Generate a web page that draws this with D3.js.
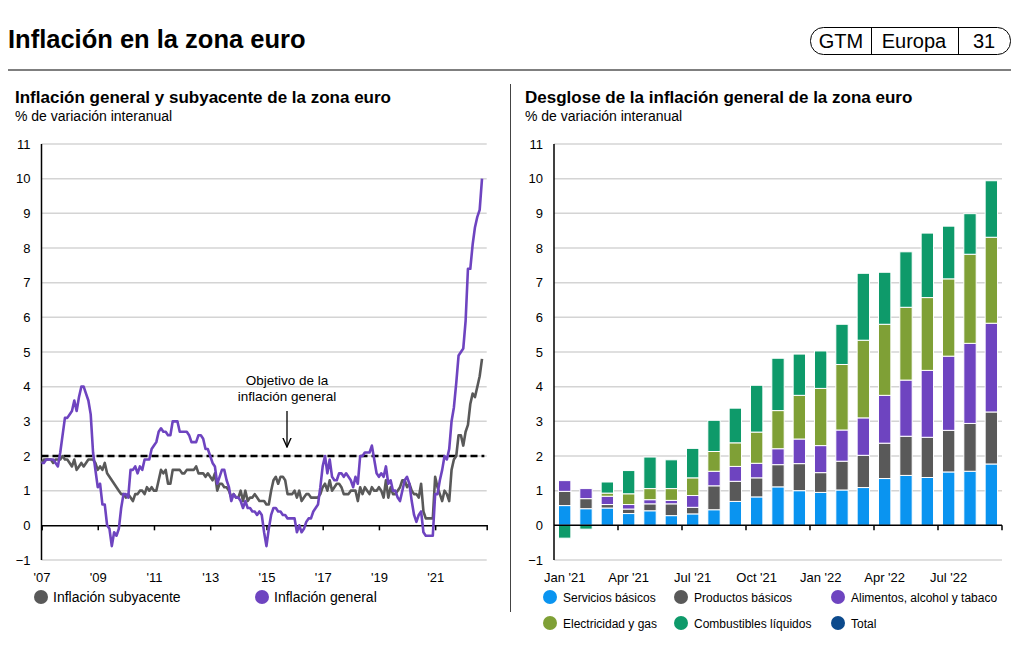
<!DOCTYPE html>
<html><head><meta charset="utf-8">
<script src="https://cdn.jsdelivr.net/npm/d3@7"></script>
<style>
body{margin:0;background:#fff}
svg text{font-family:"Liberation Sans",Arial,Helvetica,sans-serif;fill:#000}
</style>
</head><body>
<svg id="c" width="1025" height="652"></svg>
<script>
// ---------- DATA ----------
// Left chart: monthly, Jan 2007 .. Sep 2022
const headline = [
 1.8,1.8,1.9,1.9,1.9,1.9,1.8,1.7,2.1,2.6,3.1,3.1,
 3.2,3.3,3.6,3.3,3.7,4.0,4.0,3.8,3.6,3.2,2.1,1.6,
 1.1,1.2,0.6,0.6,0.0,-0.1,-0.6,-0.2,-0.3,-0.1,0.5,0.9,
 0.9,0.8,1.6,1.6,1.7,1.5,1.7,1.6,1.9,1.9,1.9,2.2,
 2.3,2.4,2.7,2.8,2.7,2.7,2.6,2.6,3.0,3.0,3.0,2.7,
 2.7,2.7,2.7,2.6,2.4,2.4,2.4,2.6,2.6,2.5,2.2,2.2,
 2.0,1.8,1.7,1.2,1.4,1.6,1.6,1.3,1.1,0.7,0.9,0.8,
 0.8,0.7,0.5,0.7,0.5,0.5,0.4,0.4,0.3,0.4,0.3,-0.2,
 -0.6,-0.1,0.3,0.5,0.5,0.4,0.4,0.3,0.3,0.2,0.2,0.2,
 0.2,-0.2,0.0,-0.2,-0.1,0.1,0.2,0.2,0.4,0.5,0.6,1.1,
 1.7,2.0,1.5,1.9,1.4,1.3,1.3,1.5,1.5,1.4,1.5,1.4,
 1.3,1.1,1.4,1.2,2.0,2.0,2.1,2.1,2.1,2.3,1.9,1.5,
 1.4,1.5,1.4,1.7,1.2,1.3,1.0,1.0,0.8,0.7,1.0,1.3,
 1.4,1.2,0.7,0.3,0.1,0.3,0.4,-0.2,-0.3,-0.3,-0.3,-0.3,
 0.9,0.9,1.3,1.6,2.0,1.9,2.2,3.0,3.4,4.1,4.9,5.0,
 5.1,5.9,7.4,7.4,8.1,8.6,8.9,9.1,10.0
];
const core = [
 1.8,1.9,1.9,1.9,1.9,1.8,1.9,1.9,1.9,2.0,1.9,1.9,
 1.8,1.7,1.9,1.6,1.7,1.8,1.7,1.8,1.9,1.9,1.9,1.8,
 1.6,1.7,1.6,1.8,1.5,1.4,1.3,1.2,1.1,1.0,0.9,0.9,
 0.8,0.9,0.8,0.7,0.9,0.9,1.0,1.0,0.9,1.1,1.0,1.1,
 1.0,1.0,1.3,1.6,1.5,1.6,1.2,1.2,1.6,1.6,1.6,1.6,
 1.5,1.5,1.6,1.6,1.6,1.6,1.7,1.5,1.5,1.5,1.4,1.5,
 1.4,1.3,1.5,1.0,1.2,1.2,1.1,1.1,1.0,0.8,0.9,0.8,
 0.8,1.0,0.7,1.0,0.7,0.8,0.8,0.9,0.8,0.7,0.7,0.7,
 0.6,0.6,1.0,1.3,1.4,1.2,1.4,1.4,1.3,0.9,0.9,0.9,
 1.0,0.8,1.0,0.7,0.8,0.9,0.9,0.8,0.8,0.8,0.8,0.9,
 1.1,1.2,1.0,1.3,1.0,1.1,1.2,1.2,1.1,0.9,0.9,0.9,
 1.0,1.0,1.0,0.7,1.1,0.9,1.1,1.0,0.9,1.1,1.0,1.0,
 1.1,1.0,0.8,1.3,0.8,1.1,0.9,0.9,1.0,1.1,1.3,1.3,
 1.1,1.2,1.0,0.9,0.9,0.8,1.2,0.4,0.2,0.2,0.2,0.2,
 1.4,1.1,0.9,0.7,1.0,0.9,0.7,1.6,1.9,2.0,2.6,2.6,
 2.3,2.7,2.9,3.5,3.8,3.7,4.0,4.3,4.8
];
const target = 2;
const lineTickLabels = ["'07","'09","'11","'13","'15","'17","'19","'21"];
const yTicks = [-1,0,1,2,3,4,5,6,7,8,9,10,11];

// Right chart: Jan 2021 .. Sep 2022
const months = ["Jan '21","Feb '21","Mar '21","Apr '21","May '21","Jun '21","Jul '21","Aug '21","Sep '21","Oct '21","Nov '21","Dec '21",
                "Jan '22","Feb '22","Mar '22","Apr '22","May '22","Jun '22","Jul '22","Aug '22","Sep '22"];
const servicios    = [0.57,0.48,0.50,0.34,0.42,0.28,0.33,0.45,0.69,0.82,1.11,1.00,0.95,1.02,1.09,1.35,1.44,1.38,1.54,1.56,1.77];
const productos    = [0.41,0.29,0.10,0.13,0.20,0.34,0.19,0.69,0.58,0.55,0.64,0.78,0.57,0.83,0.93,1.02,1.13,1.16,1.20,1.38,1.50];
const alimentos    = [0.31,0.29,0.24,0.13,0.12,0.10,0.34,0.42,0.43,0.42,0.46,0.71,0.78,0.90,1.08,1.38,1.62,1.93,2.14,2.31,2.56];
const electricidad = [0.00,0.00,0.09,0.31,0.32,0.34,0.51,0.57,0.68,0.90,1.10,1.26,1.65,1.89,2.24,2.05,2.10,2.10,2.23,2.57,2.48];
const combustibles = [-0.37,-0.11,0.32,0.67,0.91,0.83,0.85,0.90,1.00,1.35,1.51,1.19,1.08,1.16,1.93,1.50,1.60,1.86,1.52,1.17,1.63];
const barLabelMonths = ["Jan '21","Apr '21","Jul '21","Oct '21","Jan '22","Apr '22","Jul '22"];

const seriesNames = ["Servicios básicos","Productos básicos","Alimentos, alcohol y tabaco","Electricidad y gas","Combustibles líquidos","Total"];
const seriesColors = ["#0A94F0","#595959","#6E44C0","#7FA036","#0E9A6A","#0C4A8C"];
const lineNames = ["Inflación subyacente","Inflación general"];
const lineColors = ["#595959","#6E44C0"];

// ---------- DRAW ----------
const svg = d3.select("#c");
const font = '"Liberation Sans",Arial,sans-serif';

// Header
svg.append("text").attr("x",8).attr("y",48).attr("font-size",25.5).attr("font-weight","bold").text("Inflación en la zona euro");
const hb = svg.append("g");
hb.append("rect").attr("x",810.5).attr("y",27.5).attr("width",200).attr("height",27).attr("rx",13).attr("fill","none").attr("stroke","#000").attr("stroke-width",1);
[871.5,958.5].forEach(x=>hb.append("line").attr("x1",x).attr("x2",x).attr("y1",27.5).attr("y2",54.5).attr("stroke","#000"));
[["GTM",841],["Europa",914],["31",984]].forEach(([t,x])=>hb.append("text").attr("x",x).attr("y",48).attr("text-anchor","middle").attr("font-size",20).text(t));
svg.append("line").attr("x1",8).attr("x2",1011).attr("y1",70).attr("y2",70).attr("stroke","#7f7f7f").attr("stroke-width",2);
svg.append("line").attr("x1",510.5).attr("x2",510.5).attr("y1",84).attr("y2",612).attr("stroke","#444").attr("stroke-width",1);

// Subtitles
function subtitle(x, t){
  svg.append("text").attr("x",x).attr("y",103).attr("font-size",17).attr("font-weight","bold").text(t);
  svg.append("text").attr("x",x).attr("y",121).attr("font-size",14).text("% de variación interanual");
}
subtitle(15,"Inflación general y subyacente de la zona euro");
subtitle(525,"Desglose de la inflación general de la zona euro");

const y = d3.scaleLinear().domain([-1,11]).range([560,144]);

function grid(x0,x1){
  const g = svg.append("g");
  g.selectAll("line").data(yTicks.filter(v=>v!==0)).join("line")
   .attr("x1",x0).attr("x2",x1).attr("y1",d=>y(d)).attr("y2",d=>y(d))
   .attr("stroke","#d4d4d4").attr("stroke-width",1.5);
  const ax = svg.append("g").attr("transform",`translate(${x0},0)`)
    .call(d3.axisLeft(y).tickValues(yTicks).tickSize(0).tickPadding(11).tickFormat(d3.format("d")));
  ax.select(".domain").remove();
  ax.selectAll("text").attr("font-size",13).attr("font-family",font).attr("fill","#000");
  svg.append("line").attr("x1",x0).attr("x2",x0).attr("y1",y(11)).attr("y2",y(-1)).attr("stroke","#000").attr("stroke-width",1.5);
}

// ----- Left chart -----
const xL = d3.scaleLinear().domain([0,190]).range([41.5,486.7]);
grid(41.5,486.7);
const axL = svg.append("g").attr("transform",`translate(0,${y(0)})`)
  .call(d3.axisBottom(xL).tickValues(lineTickLabels.map((d,i)=>i*24)).tickSize(5).tickPadding(42).tickFormat((d,i)=>lineTickLabels[i]));
axL.select(".domain").attr("stroke","#000").attr("stroke-width",1.5);
axL.selectAll(".tick line").attr("stroke","#000").attr("stroke-width",1.5);
axL.selectAll("text").attr("font-size",13).attr("font-family",font).attr("fill","#000");

// target line
svg.append("line").attr("x1",xL(0)).attr("x2",xL(189)).attr("y1",y(target)).attr("y2",y(target))
  .attr("stroke","#000").attr("stroke-width",2.5).attr("stroke-dasharray","7,4");

const line = d3.line().x((d,i)=>xL(i)).y(d=>y(d));
svg.append("path").datum(core).attr("d",line).attr("fill","none").attr("stroke",lineColors[0]).attr("stroke-width",2.6).attr("stroke-linejoin","round");
svg.append("path").datum(headline).attr("d",line).attr("fill","none").attr("stroke",lineColors[1]).attr("stroke-width",2.6).attr("stroke-linejoin","round");

// annotation
svg.append("text").attr("x",287).attr("y",385).attr("text-anchor","middle").attr("font-size",13.5).text("Objetivo de la");
svg.append("text").attr("x",287).attr("y",401).attr("text-anchor","middle").attr("font-size",13.5).text("inflación general");
svg.append("defs").append("marker").attr("id","ah").attr("viewBox","0 0 10 10").attr("refX",9).attr("refY",5)
  .attr("markerWidth",8).attr("markerHeight",8).attr("orient","auto")
  .append("path").attr("d","M0,1 L9,5 L0,9").attr("fill","none").attr("stroke","#000").attr("stroke-width",1.3);
svg.append("line").attr("x1",287).attr("x2",287).attr("y1",411).attr("y2",447).attr("stroke","#000").attr("stroke-width",1.3).attr("marker-end","url(#ah)");

// left legend
lineNames.forEach((n,i)=>{
  const x = [41,262][i];
  svg.append("circle").attr("cx",x).attr("cy",597).attr("r",7).attr("fill",lineColors[i]);
  svg.append("text").attr("x",x+12).attr("y",602).attr("font-size",14).text(n);
});

// ----- Right chart -----
const xR = d3.scaleBand().domain(months).range([554,1002]).paddingInner(0.42).paddingOuter(0.21);
grid(554,1002);

const rows = months.map((m,i)=>({m, s0:servicios[i], s1:productos[i], s2:alimentos[i], s3:electricidad[i], s4:combustibles[i]}));
const keys = ["s0","s1","s2","s3","s4"];
const stack = d3.stack().keys(keys).offset(d3.stackOffsetDiverging)(rows);
svg.append("g").selectAll("g").data(stack).join("g").attr("fill",(d,i)=>seriesColors[i])
  .selectAll("rect").data(d=>d.filter(p=>Math.abs(p[1]-p[0])>0.001)).join("rect")
  .attr("x",d=>xR(d.data.m)).attr("width",xR.bandwidth())
  .attr("y",d=>y(Math.max(d[0],d[1]))).attr("height",d=>Math.abs(y(d[0])-y(d[1])))
  .attr("stroke","#fff").attr("stroke-width",1);

const axR = svg.append("g").attr("transform",`translate(0,${y(0)})`)
  .call(d3.axisBottom(xR).tickValues(barLabelMonths).tickSize(0).tickPadding(47));
axR.select(".domain").remove();
axR.selectAll("text").attr("font-size",13).attr("font-family",font).attr("fill","#000");
svg.append("line").attr("x1",554).attr("x2",1002).attr("y1",y(0)).attr("y2",y(0)).attr("stroke","#000").attr("stroke-width",1.5);
svg.append("g").selectAll("line").data(months.filter((m,i)=>i%3===0 && i>0).concat(["end"])).join("line")
  .attr("x1",d=>d==="end"?1002:xR(d)-xR.step()*xR.paddingInner()/2).attr("x2",d=>d==="end"?1002:xR(d)-xR.step()*xR.paddingInner()/2)
  .attr("y1",y(0)).attr("y2",y(0)+5).attr("stroke","#000").attr("stroke-width",1.5);

// right legend
seriesNames.forEach((n,i)=>{
  const x = [550,681,838][i%3], yy = i<3?597:623;
  svg.append("circle").attr("cx",x).attr("cy",yy).attr("r",7).attr("fill",seriesColors[i]);
  svg.append("text").attr("x",x+13).attr("y",yy+4.5).attr("font-size",12).text(n);
});
</script>
</body></html>
